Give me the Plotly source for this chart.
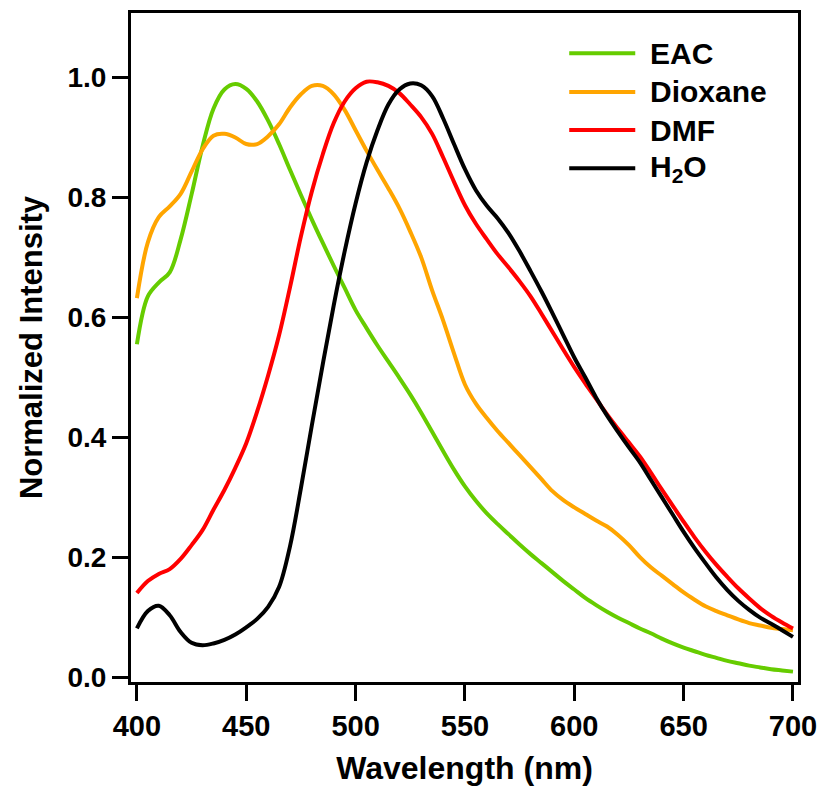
import plotly.graph_objects as go

wavelength = list(range(400, 701, 5))

eac = [0.555, 0.635, 0.658, 0.675, 0.730, 0.805, 0.885, 0.948, 0.980, 0.989,
       0.981, 0.960, 0.928, 0.889, 0.846, 0.804, 0.763, 0.724, 0.686, 0.649,
       0.612, 0.582, 0.553, 0.526, 0.499, 0.471, 0.441, 0.409, 0.377, 0.346,
       0.318, 0.294, 0.273, 0.255, 0.238, 0.221, 0.205, 0.190, 0.175, 0.160,
       0.146, 0.132, 0.120, 0.109, 0.099, 0.090, 0.081, 0.073, 0.064, 0.056,
       0.049, 0.043, 0.037, 0.032, 0.027, 0.023, 0.019, 0.016, 0.013, 0.011,
       0.009]

dioxane = [0.632, 0.725, 0.767, 0.785, 0.806, 0.843, 0.880, 0.903, 0.906, 0.900,
           0.889, 0.889, 0.902, 0.922, 0.950, 0.972, 0.986, 0.986, 0.972, 0.946,
           0.912, 0.878, 0.846, 0.815, 0.782, 0.743, 0.700, 0.645, 0.595, 0.540,
           0.488, 0.456, 0.432, 0.410, 0.390, 0.370, 0.350, 0.330, 0.310, 0.295,
           0.283, 0.272, 0.261, 0.251, 0.237, 0.220, 0.200, 0.183, 0.169, 0.155,
           0.141, 0.129, 0.118, 0.110, 0.103, 0.096, 0.090, 0.086, 0.082, 0.080,
           0.078]

dmf = [0.140, 0.160, 0.172, 0.180, 0.197, 0.220, 0.245, 0.279, 0.312, 0.349,
       0.390, 0.443, 0.503, 0.570, 0.650, 0.735, 0.810, 0.872, 0.924, 0.960,
       0.982, 0.993, 0.992, 0.986, 0.974, 0.955, 0.934, 0.906, 0.867, 0.826,
       0.787, 0.756, 0.730, 0.705, 0.683, 0.660, 0.635, 0.606, 0.576, 0.546,
       0.517, 0.490, 0.464, 0.438, 0.414, 0.391, 0.368, 0.341, 0.313, 0.286,
       0.259, 0.233, 0.209, 0.187, 0.167, 0.148, 0.131, 0.115, 0.102, 0.091,
       0.081]

h2o = [0.081, 0.110, 0.119, 0.103, 0.075, 0.057, 0.053, 0.056, 0.062, 0.071,
       0.083, 0.097, 0.117, 0.150, 0.218, 0.315, 0.420, 0.522, 0.620, 0.710,
       0.790, 0.858, 0.912, 0.955, 0.980, 0.990, 0.987, 0.969, 0.932, 0.889,
       0.847, 0.812, 0.786, 0.765, 0.740, 0.710, 0.677, 0.643, 0.607, 0.570,
       0.533, 0.500, 0.466, 0.436, 0.409, 0.383, 0.358, 0.329, 0.300, 0.271,
       0.242, 0.215, 0.190, 0.166, 0.145, 0.127, 0.112, 0.099, 0.089, 0.078,
       0.067]

names = ["EAC", "Dioxane", "DMF", "H<sub>2</sub>O"]
series = [eac, dioxane, dmf, h2o]
colors = ["#66cc00", "#ffa500", "#ff0000", "#000000"]

x_ticks = [400, 450, 500, 550, 600, 650, 700]
y_ticks = [0.0, 0.2, 0.4, 0.6, 0.8, 1.0]

FONT = "Liberation Sans, Arial, sans-serif"

fig = go.Figure()
for name, ys, c in zip(names, series, colors):
    fig.add_trace(go.Scatter(x=wavelength, y=ys, mode="lines", name=name,
                             line=dict(color=c, width=4, shape="spline", smoothing=1.0),
                             showlegend=False))

# manual legend (long line samples like the original)
leg_y = [0.940, 0.882, 0.825, 0.768]
for name, c, yy in zip(names, colors, leg_y):
    fig.add_shape(type="line", xref="paper", yref="paper",
                  x0=0.657, x1=0.756, y0=yy, y1=yy,
                  line=dict(color=c, width=4))
    fig.add_annotation(xref="paper", yref="paper", x=0.775, y=yy,
                       text=name, showarrow=False, xanchor="left", yanchor="middle",
                       font=dict(family=FONT, size=30, color="black", weight="bold"))

axis_common = dict(showline=True, linewidth=3, linecolor="black", mirror=True,
                   ticks="outside", ticklen=16, tickwidth=3, tickcolor="black",
                   showgrid=False, zeroline=False)

fig.update_layout(
    width=825, height=789,
    margin=dict(l=131, r=27, t=13, b=107),
    plot_bgcolor="white", paper_bgcolor="white",
    font=dict(family=FONT, color="black"),
    xaxis=dict(range=[397.3, 702.3], tickvals=x_ticks,
               ticktext=[str(v) for v in x_ticks],
               tickfont=dict(family=FONT, size=29, weight="bold"),
               title=dict(text="Wavelength (nm)", standoff=16,
                          font=dict(family=FONT, size=32, weight="bold")),
               automargin=False, **axis_common),
    yaxis=dict(range=[-0.0083, 1.1076], tickvals=y_ticks,
               ticktext=[f"{v:.1f}" for v in y_ticks],
               tickfont=dict(family=FONT, size=28, weight="bold"),
               title=dict(text="Normalized Intensity", standoff=16,
                          font=dict(family=FONT, size=31, weight="bold")),
               automargin=False, **axis_common),
)

fig.write_html("out.html")
